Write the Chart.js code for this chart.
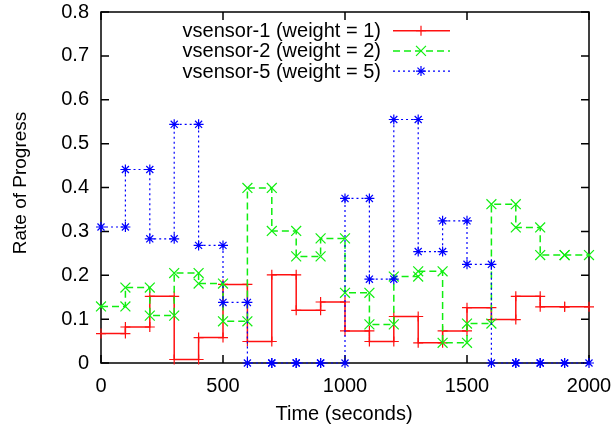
<!DOCTYPE html>
<html>
<head>
<meta charset="utf-8">
<script src="https://cdn.jsdelivr.net/npm/chart.js@4/dist/chart.umd.min.js"></script>
<style>
  html, body { margin: 0; padding: 0; background: #fff; }
</style>
</head>
<body>
<canvas id="chart" width="615" height="428"></canvas>
<script>
// interval edges, in seconds
const timeSteps = [0, 100, 200, 300, 400, 500, 600, 700, 800, 900, 1000,
                   1100, 1200, 1300, 1400, 1500, 1600, 1700, 1800, 1900, 2000];

// rate of progress held over each 100 s interval
const vsensor1 = [0.067, 0.082, 0.152, 0.008, 0.058, 0.179, 0.049, 0.201, 0.120, 0.139,
                  0.073, 0.049, 0.106, 0.046, 0.073, 0.126, 0.099, 0.152, 0.128, 0.128];
const vsensor2 = [0.129, 0.172, 0.108, 0.205, 0.181, 0.095, 0.399, 0.301, 0.243, 0.284,
                  0.160, 0.088, 0.197, 0.209, 0.046, 0.090, 0.362, 0.309, 0.246, 0.246];
const vsensor5 = [0.310, 0.441, 0.283, 0.544, 0.268, 0.138, 0, 0, 0, 0,
                  0.375, 0.191, 0.555, 0.254, 0.324, 0.225, 0, 0, 0, 0];

const seriesLabels = ["vsensor-1 (weight = 1)", "vsensor-2 (weight = 2)", "vsensor-5 (weight = 5)"];
const xTicks = [0, 500, 1000, 1500, 2000];
const yTicks = [0, 0.1, 0.2, 0.3, 0.4, 0.5, 0.6, 0.7, 0.8];

const FONT = '"Liberation Sans", Arial, Helvetica, sans-serif';

const styles = [
    { color: '#ff1010', dash: [], point: 'cross', radius: 5, width: 1.5 },
    { color: '#10ee10', dash: [7, 4], point: 'crossRot', radius: 7, width: 1.5 },
    { color: '#0000ff', dash: [2, 3], point: 'star', radius: 5, width: 1.2 }
];

function toSteps(levels) {
    let points = [];
    for (let i = 0; i < levels.length; i++) {
        points.push({ x: timeSteps[i], y: levels[i] });
        points.push({ x: timeSteps[i + 1], y: levels[i] });
    }
    return points;
}

function makeDataset(label, levels, st, order) {
    return {
        label: label,
        data: toSteps(levels),
        borderColor: st.color,
        backgroundColor: st.color,
        borderWidth: st.width,
        borderDash: st.dash,
        pointStyle: st.point,
        pointRadius: st.radius,
        pointBorderWidth: 1.2,
        pointBorderColor: st.color,
        pointHoverRadius: st.radius,
        tension: 0,
        fill: false,
        clip: false,
        order: order
    };
}

// gnuplot-like box with inward ticks, axis titles and key
const framePlugin = {
    id: 'frame',
    beforeDatasetsDraw(chart) {
        const { ctx, chartArea: a, scales } = chart;
        ctx.save();
        ctx.strokeStyle = '#000';
        ctx.lineWidth = 1.5;
        ctx.strokeRect(a.left, a.top, a.right - a.left, a.bottom - a.top);
        ctx.beginPath();
        yTicks.forEach(v => {
            let y = scales.y.getPixelForValue(v);
            ctx.moveTo(a.left, y); ctx.lineTo(a.left + 8, y);
            ctx.moveTo(a.right, y); ctx.lineTo(a.right - 8, y);
        });
        xTicks.forEach(v => {
            let x = scales.x.getPixelForValue(v);
            ctx.moveTo(x, a.bottom); ctx.lineTo(x, a.bottom - 8);
            ctx.moveTo(x, a.top); ctx.lineTo(x, a.top + 8);
        });
        ctx.stroke();

        ctx.fillStyle = '#000';
        ctx.font = '20px ' + FONT;
        ctx.textAlign = 'center';
        ctx.textBaseline = 'alphabetic';
        ctx.fillText('Time (seconds)', 344, 420);

        ctx.translate(26, 183);
        ctx.rotate(-Math.PI / 2);
        ctx.font = '19px ' + FONT;
        ctx.fillText('Rate of Progress', 0, 0);
        ctx.restore();
    },
    afterDatasetsDraw(chart) {
        const ctx = chart.ctx;
        ctx.save();
        ctx.font = '20px ' + FONT;
        ctx.textAlign = 'right';
        ctx.textBaseline = 'middle';
        seriesLabels.forEach((label, i) => {
            let y = 30.7 + i * 20.2;
            let st = styles[i];
            ctx.fillStyle = '#000';
            ctx.fillText(label, 381, y + 1);
            ctx.strokeStyle = st.color;
            ctx.lineWidth = st.width;
            ctx.setLineDash(st.dash);
            ctx.beginPath();
            ctx.moveTo(393, y);
            ctx.lineTo(450, y);
            ctx.stroke();
            ctx.setLineDash([]);
            ctx.lineWidth = 1.2;
            ctx.fillStyle = st.color;
            Chart.helpers.drawPoint(ctx, { pointStyle: st.point, radius: st.radius, borderWidth: 1.2, rotation: 0 }, 421, y);
        });
        ctx.restore();
    }
};

new Chart(document.getElementById('chart'), {
    type: 'line',
    data: {
        datasets: [
            makeDataset(seriesLabels[0], vsensor1, styles[0], 2),
            makeDataset(seriesLabels[1], vsensor2, styles[1], 1),
            makeDataset(seriesLabels[2], vsensor5, styles[2], 0)
        ]
    },
    options: {
        responsive: false,
        animation: false,
        layout: { padding: { top: 12, right: 26, left: 0, bottom: 0 } },
        plugins: {
            legend: { display: false },
            tooltip: { enabled: false }
        },
        scales: {
            x: {
                type: 'linear',
                min: 0,
                max: 2000,
                grid: { display: false, drawTicks: false },
                border: { display: false },
                ticks: {
                    stepSize: 500,
                    padding: 11,
                    color: '#000',
                    maxRotation: 0,
                    font: { family: FONT, size: 20 },
                    callback: v => String(v)
                },
                afterFit(scale) {
                    scale.height = 65;
                    scale.paddingLeft = 0;
                    scale.paddingRight = 0;
                }
            },
            y: {
                min: 0,
                max: 0.8,
                grid: { display: false, drawTicks: false },
                border: { display: false },
                ticks: {
                    stepSize: 0.1,
                    padding: 12,
                    color: '#000',
                    font: { family: FONT, size: 20 },
                    callback: v => String(Math.round(v * 10) / 10)
                },
                afterFit(scale) {
                    scale.width = 101;
                    scale.paddingTop = 0;
                    scale.paddingBottom = 0;
                }
            }
        }
    },
    plugins: [framePlugin]
});
</script>
</body>
</html>
